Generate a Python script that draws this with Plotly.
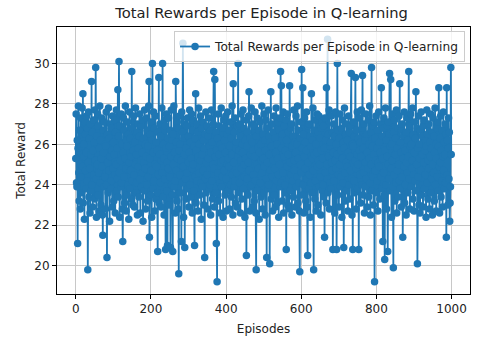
import plotly.graph_objects as go

# total reward of each episode (20 rows of 50 episodes)
rewards = [
    25.3, 27.5, 24.1, 23.9, 26.2, 21.1, 25.8, 27.9, 24.6, 23.2, 26.7, 25.0, 22.8, 27.3, 24.4, 25.9, 23.6, 27.8, 24.9, 28.5,
    23.1, 26.0, 25.4, 22.3, 27.1, 24.7, 26.5, 23.8, 25.6, 27.4, 24.2, 26.8, 19.8, 25.1, 27.6, 23.4, 26.3, 24.8, 22.6, 27.0,
    25.5, 23.7, 29.1, 24.0, 26.6, 22.9, 25.7, 27.2, 24.5, 26.1,
    23.3, 27.7, 25.2, 29.8, 24.3, 22.4, 26.4, 25.0, 27.5, 23.5, 26.9, 24.6, 22.7, 25.8, 27.9, 24.1, 26.2, 23.0, 25.3, 27.3,
    24.9, 22.5, 21.5, 26.7, 25.6, 23.9, 27.1, 24.4, 26.0, 22.8, 25.9, 27.6, 24.0, 20.4, 26.5, 25.1, 23.6, 27.8, 24.7, 26.3,
    22.2, 25.4, 27.0, 23.8, 26.8, 24.2, 25.7, 22.9, 27.4, 24.8,
    26.1, 23.2, 25.5, 27.2, 24.5, 22.6, 26.6, 25.0, 27.7, 23.7, 25.8, 24.3, 28.7, 23.4, 26.4, 30.1, 24.6, 22.4, 26.9, 25.2,
    23.9, 27.5, 24.1, 26.0, 22.8, 21.2, 25.6, 27.3, 24.4, 26.7, 23.1, 25.3, 27.9, 24.8, 22.7, 26.2, 25.9, 23.5, 27.1, 24.0,
    26.5, 22.3, 25.1, 27.6, 23.8, 26.3, 24.7, 25.4, 23.3, 29.6,
    24.2, 26.8, 23.0, 25.7, 27.4, 24.5, 22.9, 26.1, 25.0, 27.8, 23.6, 25.5, 24.1, 26.6, 22.5, 27.0, 24.9, 25.8, 23.4, 26.4,
    27.5, 24.3, 22.6, 25.2, 26.9, 23.9, 25.6, 27.2, 24.6, 22.2, 26.3, 25.1, 23.7, 27.7, 24.8, 26.0, 22.8, 25.4, 27.3, 24.0,
    26.7, 23.2, 25.9, 24.4, 27.9, 29.1, 21.4, 25.3, 26.5, 23.5,
    27.1, 24.7, 22.4, 26.2, 30.0, 23.8, 25.6, 27.6, 24.2, 26.8, 22.7, 25.0, 27.4, 23.3, 26.1, 24.9, 25.7, 23.6, 20.7, 26.6,
    24.5, 29.3, 23.1, 25.5, 27.0, 24.1, 26.4, 22.9, 25.2, 27.8, 24.6, 30.0, 23.4, 26.0, 25.3, 22.5, 27.2, 24.3, 26.9, 20.8,
    25.8, 27.5, 23.7, 25.1, 21.0, 26.3, 24.8, 27.3, 23.0, 25.9,
    24.4, 26.7, 20.9, 25.4, 27.7, 24.0, 26.2, 23.5, 20.7, 26.5, 25.0, 27.9, 23.9, 25.6, 24.2, 22.6, 29.1, 24.7, 26.1, 23.2,
    27.1, 25.3, 22.8, 26.8, 19.6, 25.7, 27.4, 24.5, 26.0, 23.6, 25.2, 21.2, 27.6, 24.1, 26.6, 31.0, 24.9, 22.4, 26.3, 25.5,
    20.9, 27.0, 24.3, 25.8, 23.3, 26.9, 24.6, 27.3, 23.8, 25.1,
    26.4, 22.9, 25.6, 27.7, 24.0, 26.1, 23.4, 25.3, 27.5, 24.8, 22.6, 26.7, 25.0, 27.2, 23.7, 25.9, 21.0, 26.3, 24.4, 28.5,
    23.1, 25.7, 27.0, 24.2, 26.6, 22.7, 25.4, 27.8, 24.6, 26.0, 23.5, 25.2, 27.4, 24.1, 22.3, 26.8, 25.5, 23.9, 27.1, 24.7,
    26.2, 23.0, 25.8, 20.4, 26.5, 24.3, 27.6, 23.6, 25.1, 26.9,
    24.5, 22.8, 26.4, 25.3, 27.3, 23.8, 25.9, 24.0, 26.7, 22.5, 25.6, 27.7, 24.2, 26.1, 23.3, 25.0, 27.0, 29.6, 24.8, 22.9,
    29.2, 25.4, 23.6, 26.6, 21.1, 25.7, 19.2, 26.3, 24.6, 27.5, 23.2, 25.5, 26.9, 24.1, 22.6, 26.0, 25.1, 27.8, 23.9, 25.8,
    24.4, 26.8, 22.4, 25.2, 27.2, 24.7, 26.2, 23.5, 25.6, 27.4,
    24.3, 22.7, 26.5, 25.0, 27.6, 23.7, 25.3, 24.9, 26.7, 22.8, 25.9, 27.1, 24.0, 26.3, 23.4, 25.5, 27.9, 24.5, 22.5, 29.0,
    25.1, 23.9, 26.6, 24.2, 27.3, 23.1, 25.8, 26.1, 24.6, 22.9, 26.9, 25.4, 30.0, 23.6, 25.7, 27.0, 24.1, 26.4, 22.6, 25.2,
    27.5, 24.8, 23.3, 26.0, 25.6, 27.7, 23.8, 25.0, 26.8, 24.4,
    22.4, 26.2, 25.3, 27.2, 20.5, 25.9, 24.3, 26.6, 23.5, 25.1, 27.4, 28.6, 24.7, 22.7, 26.3, 25.5, 23.9, 27.8, 24.0, 26.1,
    22.9, 25.7, 27.0, 24.5, 26.9, 23.2, 25.4, 27.6, 24.2, 22.6, 19.8, 26.4, 25.0, 27.3, 23.7, 25.8, 24.8, 26.7, 22.3, 25.6,
    27.1, 24.1, 26.0, 23.4, 25.2, 27.9, 24.6, 22.8, 26.5, 25.3,
    23.6, 27.5, 24.9, 26.2, 22.5, 25.7, 27.2, 24.3, 20.4, 26.8, 25.1, 23.8, 27.7, 24.0, 26.4, 25.5, 20.1, 26.1, 24.7, 28.6,
    23.3, 25.9, 27.0, 24.4, 22.7, 26.6, 25.2, 23.5, 27.4, 24.8, 26.3, 22.9, 25.6, 27.8, 24.2, 26.0, 23.1, 25.3, 27.1, 24.5,
    22.4, 26.7, 25.0, 27.3, 23.9, 29.6, 24.1, 28.9, 25.8, 23.2,
    26.5, 24.6, 27.6, 22.6, 25.4, 26.9, 24.0, 25.7, 23.6, 27.2, 20.8, 26.2, 24.9, 27.5, 23.0, 25.5, 26.6, 24.3, 22.8, 28.9,
    25.1, 23.7, 26.8, 24.5, 27.0, 22.5, 25.9, 24.2, 26.4, 23.4, 27.7, 25.2, 24.7, 26.1, 22.9, 25.6, 27.4, 23.9, 26.0, 24.4,
    27.9, 23.1, 25.3, 26.7, 24.1, 22.7, 19.7, 26.3, 25.0, 27.1,
    24.6, 29.7, 23.5, 25.8, 28.8, 24.0, 26.5, 22.6, 25.4, 27.3, 24.8, 26.1, 23.2, 25.7, 27.6, 24.3, 22.9, 20.5, 26.9, 25.1,
    23.8, 27.0, 24.5, 26.4, 22.4, 25.9, 24.1, 28.5, 23.6, 26.2, 25.3, 27.8, 24.7, 19.8, 26.7, 25.5, 23.3, 27.2, 24.2, 26.0,
    22.7, 25.6, 27.5, 24.9, 23.0, 26.6, 25.2, 27.4, 23.9, 25.0,
    26.3, 24.4, 22.5, 26.8, 25.7, 27.1, 23.7, 25.3, 24.0, 26.9, 23.4, 25.8, 21.4, 27.3, 24.6, 26.2, 23.1, 28.8, 25.0, 24.3,
    31.2, 23.6, 26.5, 25.4, 27.7, 22.8, 25.9, 24.1, 26.1, 23.8, 27.4, 25.1, 24.7, 26.6, 20.8, 25.6, 27.0, 24.2, 26.4, 22.6,
    25.2, 27.6, 24.8, 26.0, 20.8, 25.5, 30.0, 23.5, 26.7, 24.5,
    22.9, 26.3, 25.0, 27.5, 23.9, 25.7, 24.4, 26.8, 22.4, 25.3, 27.2, 24.1, 26.1, 20.9, 25.8, 27.8, 24.6, 23.2, 26.5, 25.1,
    23.7, 27.0, 24.9, 26.2, 22.7, 25.6, 27.4, 24.0, 26.6, 23.3, 25.4, 24.7, 26.9, 29.5, 24.3, 22.5, 26.0, 20.8, 25.9, 27.1,
    24.2, 26.4, 23.6, 25.2, 29.3, 24.8, 22.8, 26.7, 25.5, 27.6,
    23.8, 25.0, 26.3, 20.8, 25.7, 27.3, 24.5, 26.1, 23.1, 25.4, 27.7, 24.0, 26.8, 29.4, 23.5, 25.8, 24.6, 27.0, 22.6, 26.2,
    25.1, 23.9, 27.5, 24.3, 26.5, 22.9, 25.6, 24.8, 27.2, 23.4, 26.0, 25.3, 27.9, 24.1, 22.5, 26.6, 25.0, 29.8, 23.7, 25.9,
    24.4, 26.9, 23.0, 25.5, 27.1, 19.2, 26.3, 24.7, 25.2, 27.4,
    23.6, 25.8, 24.2, 26.7, 22.7, 25.1, 27.6, 24.9, 26.1, 23.3, 25.6, 27.0, 24.4, 28.8, 23.8, 26.4, 25.3, 21.2, 26.8, 24.6,
    27.3, 23.5, 20.3, 25.7, 27.8, 24.0, 26.2, 22.8, 25.4, 26.9, 20.7, 25.0, 27.1, 24.3, 26.5, 29.5, 23.7, 25.9, 29.2, 24.8,
    22.4, 26.0, 25.2, 27.5, 23.9, 19.9, 26.6, 24.5, 27.2, 23.2,
    25.5, 26.3, 24.1, 27.7, 22.6, 25.8, 24.7, 26.8, 23.4, 25.0, 27.4, 24.2, 29.0, 23.8, 26.1, 25.6, 22.9, 26.7, 24.4, 27.0,
    21.4, 25.3, 26.4, 24.9, 27.6, 23.1, 25.7, 24.0, 26.6, 22.5, 25.1, 27.3, 24.6, 26.2, 23.6, 25.4, 29.6, 24.3, 26.9, 22.8,
    25.9, 27.5, 23.9, 26.0, 24.8, 25.2, 27.8, 23.3, 26.5, 24.5,
    22.7, 25.6, 27.1, 24.2, 26.3, 28.6, 23.7, 25.0, 26.8, 20.1, 25.8, 24.4, 27.4, 23.0, 26.0, 25.3, 22.6, 26.7, 24.7, 27.6,
    23.5, 25.5, 26.4, 24.0, 22.9, 26.9, 25.1, 27.2, 23.8, 25.7, 24.5, 26.2, 22.4, 25.9, 27.7, 24.1, 26.5, 23.3, 25.2, 27.0,
    24.8, 22.8, 26.1, 25.4, 27.5, 23.6, 25.8, 24.3, 26.6, 22.5,
    25.0, 27.3, 24.6, 26.4, 23.2, 25.6, 27.8, 24.0, 26.0, 22.7, 25.3, 26.8, 24.4, 27.1, 23.7, 25.9, 28.8, 24.9, 22.6, 26.3,
    25.1, 27.4, 23.4, 25.7, 24.2, 26.7, 22.9, 25.4, 27.6, 24.7, 26.1, 23.8, 25.5, 27.0, 24.1, 26.5, 21.4, 28.8, 24.5, 26.2,
    23.0, 25.8, 27.3, 24.3, 26.6, 22.2, 23.1, 23.9, 29.8, 25.5,
]
episodes = list(range(len(rewards)))

blue = "#1f77b4"
font = "DejaVu Sans"

lo, hi = min(rewards), max(rewards)
pad = (hi - lo) * 0.05
xpad = (episodes[-1] - episodes[0]) * 0.05

fig = go.Figure()
fig.add_trace(go.Scatter(
    x=episodes, y=rewards,
    mode="lines+markers",
    name="Total Rewards per Episode in Q-learning",
    line=dict(color=blue, width=1.8),
    marker=dict(color=blue, size=7.5),
))

axis = dict(
    showline=True, linecolor="black", linewidth=1, mirror=True,
    ticks="outside", ticklen=4, tickcolor="black",
    showgrid=True, gridcolor="#c8c8c8", gridwidth=1,
    zeroline=False,
    tickfont=dict(family=font, size=12, color="#222"),
)

fig.update_layout(
    width=480, height=343,
    margin=dict(l=57, r=9, t=27, b=41),
    paper_bgcolor="white", plot_bgcolor="white",
    font=dict(family=font, color="#222"),
    hovermode=False,
    title=dict(text="Total Rewards per Episode in Q-learning",
               font=dict(family=font, size=14.7, color="#222"),
               x=0.545, xanchor="center", y=0.962, yanchor="middle"),
    xaxis=dict(axis, range=[episodes[0] - xpad, episodes[-1] + xpad],
               tickvals=[0, 200, 400, 600, 800, 1000],
               title=dict(text="Episodes", font=dict(family=font, size=12), standoff=9)),
    yaxis=dict(axis, range=[lo - pad, hi + pad],
               tickvals=[20, 22, 24, 26, 28, 30],
               title=dict(text="Total Reward", font=dict(family=font, size=12), standoff=6)),
    showlegend=True,
    legend=dict(x=0.988, y=0.985, xanchor="right", yanchor="top",
                bgcolor="rgba(255,255,255,0.8)", bordercolor="#cccccc", borderwidth=1,
                font=dict(family=font, size=12.2, color="#222")),
)

# drop the default page margin so the figure sits at the window's corner
fig.write_html("out.html", config={"displayModeBar": False},
               post_script="document.body.style.margin='0';")
